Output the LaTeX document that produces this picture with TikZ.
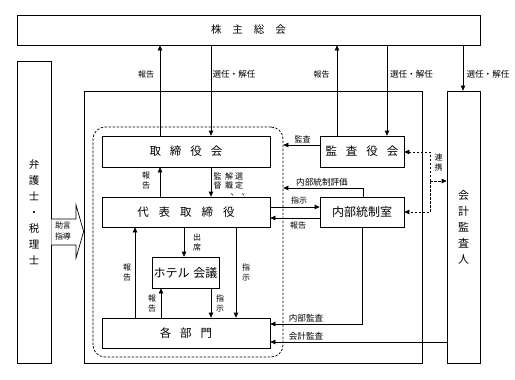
\documentclass[tikz,border=0pt]{standalone}
\usepackage{fontspec}
\setmainfont{Noto Sans CJK JP}
\usetikzlibrary{arrows.meta}
\begin{document}
\begin{tikzpicture}[x=1pt,y=-1pt,
  box/.style={draw, line width=0.7pt, inner sep=0pt, align=center, font=\fontsize{11.5}{12}\selectfont},
  lbl/.style={inner sep=0pt, align=center, font=\fontsize{8}{10}\selectfont},
  wlbl/.style={lbl, font=\fontsize{8.6}{10}\selectfont},
  ln/.style={line width=0.7pt},
  arr/.style={line width=0.7pt, -{Triangle[length=5pt,width=4.5pt]}},
  darr/.style={line width=0.7pt, dash pattern=on 2.5pt off 1.5pt, -{Triangle[length=5pt,width=4.5pt]}},
  dln/.style={line width=0.7pt, dash pattern=on 2.5pt off 1.5pt}]
\useasboundingbox (0,0) rectangle (515,380);
% boxes
\node[box, minimum width=463pt, minimum height=30pt, font=\fontsize{10.5}{12}\selectfont] (kabu) at (248.5,30) {株\hspace{11pt}主\hspace{11pt}総\hspace{11pt}会};
\node[box, minimum width=34pt, minimum height=302pt, font=\fontsize{10.5}{16}\selectfont] (bengo) at (34,212) {弁\\護\\士\\・\\税\\理\\士};
\node[box, minimum width=338pt, minimum height=272pt] (outer) at (253,227) {};
\node[box, minimum width=33pt, minimum height=272pt, font=\fontsize{11}{16}\selectfont] (kaikei) at (463.5,227) {会\\計\\監\\査\\人};
\node[dln, draw, rounded corners=12pt, minimum width=190pt, minimum height=230pt, inner sep=0pt] (grp) at (188,242) {};
\node[box, minimum width=168pt, minimum height=31pt] (tori) at (186,151.5) {取\hspace{9pt}締\hspace{9pt}役\hspace{9pt}会};
\node[box, minimum width=168pt, minimum height=30pt] (daihyo) at (186,212) {代\hspace{10pt}表\hspace{10pt}取\hspace{10pt}締\hspace{10pt}役};
\node[box, minimum width=84pt, minimum height=31pt] (kansa) at (362,151.5) {監\hspace{9pt}査\hspace{9pt}役\hspace{9pt}会};
\node[box, minimum width=84pt, minimum height=30pt, font=\fontsize{12}{12}\selectfont] (naibu) at (362,212) {内部統制室};
\node[box, minimum width=67pt, minimum height=31pt, font=\fontsize{12}{12}\selectfont] (hotel) at (185.5,272.5) {ホテル\hspace{4pt}会議};
\node[box, minimum width=168pt, minimum height=30pt] (kakubu) at (186,333) {各\hspace{9pt}部\hspace{9pt}門};
% shareholders arrows
\draw[arr] (tori.north -| 160,0) -- (kabu.south -| 160,0);
\draw[arr] (kabu.south -| 211,0) -- (tori.north -| 211,0);
\draw[arr] (kansa.north -| 337,0) -- (kabu.south -| 337,0);
\draw[arr] (kabu.south -| 387,0) -- (kansa.north -| 387,0);
\draw[arr] (kabu.south -| 463,0) -- (kaikei.north -| 463,0);
\node[lbl] (l1) at (146,74) {報告};
\node[wlbl] (l2) at (234,74) {選任・解任};
\node[lbl] (l3) at (321.5,74) {報告};
\node[wlbl] (l4) at (411.5,74) {選任・解任};
\node[wlbl] (l5) at (488,74) {選任・解任};
% audit board
\draw[arr] (kansa.west |- 0,145) -- (grp.east |- 0,145);
\node[lbl] (l6) at (302.5,139) {監査};
\draw[arr] (naibu.north -| 363,0) |- (grp.east |- 0,188);
\node[wlbl] (l7) at (322,182) {内部統制評価};
\draw[arr] (daihyo.east |- 0,207) -- (naibu.west |- 0,207);
\node[lbl] (l8) at (299,200.5) {指示};
\draw[arr] (naibu.west |- 0,218) -- (daihyo.east |- 0,218);
\node[lbl] (l9) at (298,225) {報告};
% cooperation
\coordinate (rk) at (430,181);
\draw[darr] (rk) -- (rk |- 0,152) -- (kansa.east |- 0,152);
\draw[darr] (rk) -- (rk |- 0,212) -- (naibu.east |- 0,212);
\draw[darr] (rk) -- (kaikei.west |- rk);
\node[lbl] (l10) at (438.5,162.5) {連\\携};
% inside group
\draw[arr] (daihyo.north -| 160,0) -- (tori.south -| 160,0);
\node[lbl] (l11) at (146,180) {報\\告};
\draw[arr] (tori.south -| 211,0) -- (daihyo.north -| 211,0);
\node[lbl, font=\fontsize{8}{9}\selectfont] (l12a) at (217.5,181) {監\\督};
\node[lbl, font=\fontsize{8}{9}\selectfont] (l12b) at (229,181) {解\\職};
\node[lbl, font=\fontsize{8}{9}\selectfont] (l12c) at (239,181) {選\\定};
\node[lbl, anchor=base west] (l12d) at (230.5,195) {、};
\node[lbl, anchor=base west] (l12e) at (241.5,195) {、};
\draw[arr] (daihyo.south -| 184,0) -- (hotel.north -| 184,0);
\node[lbl] (l13) at (197,242) {出\\席};
\draw[arr] (daihyo.south -| 236,0) -- (kakubu.north -| 236,0);
\node[lbl] (l14) at (246,272) {指\\示};
\draw[arr] (kakubu.north -| 135,0) -- (daihyo.south -| 135,0);
\node[lbl] (l15) at (127,272) {報\\告};
\draw[arr] (kakubu.north -| 161,0) -- (hotel.south -| 161,0);
\node[lbl] (l16) at (152,303) {報\\告};
\draw[arr] (hotel.south -| 211,0) -- (kakubu.north -| 211,0);
\node[lbl] (l17) at (220,303) {指\\示};
\draw[arr] (naibu.south -| 362,0) |- (kakubu.east |- 0,324);
\node[wlbl] (l18) at (306,318) {内部監査};
\draw[arr] (kaikei.west |- 0,342) -- (kakubu.east |- 0,342);
\node[wlbl] (l19) at (306,336) {会計監査};
% advice arrow
\draw[ln, fill=white] (bengo.east |- 0,219) -- (76,219) -- (76,205) -- (outer.west |- 0,231.5) -- (76,258) -- (76,245) -- (bengo.east |- 0,245);
\node[lbl, font=\fontsize{8}{11.5}\selectfont] (jogen) at (63,231) {助言\\指導};
\end{tikzpicture}
\end{document}
